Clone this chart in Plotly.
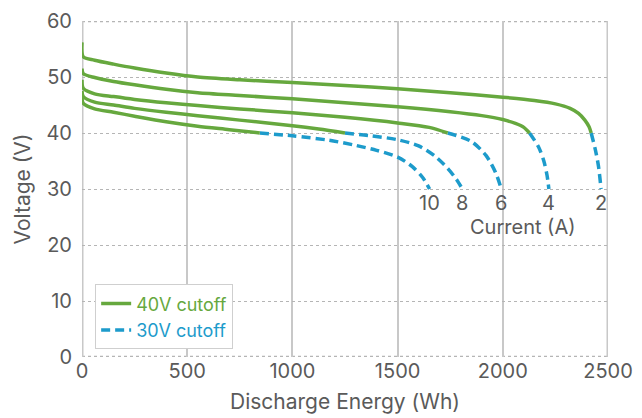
import plotly.graph_objects as go

# Discharge curves of the battery pack at five constant currents.
# Solid part: discharge down to the 40 V cutoff; dashed part: continued to 30 V.
currents = [2, 4, 6, 8, 10]

energy_2a_40 = [0, 6, 60, 150, 250, 400, 550, 750, 1000, 1250, 1500, 1750, 2000, 2150, 2250, 2320, 2360, 2390, 2410, 2420]
volt_2a_40 = [56.2, 53.6, 53.0, 52.3, 51.6, 50.7, 50.0, 49.5, 49.0, 48.5, 47.9, 47.2, 46.4, 45.8, 45.2, 44.4, 43.5, 42.3, 41.1, 40.0]
energy_2a_30 = [2420, 2440, 2455, 2467]
volt_2a_30 = [40.0, 37.0, 34.0, 30.0]

energy_4a_40 = [0, 6, 60, 150, 250, 400, 550, 750, 1000, 1250, 1500, 1750, 1900, 2000, 2060, 2100, 2127]
volt_4a_40 = [51.5, 50.6, 49.9, 49.2, 48.6, 47.8, 47.2, 46.7, 46.1, 45.4, 44.7, 43.8, 43.1, 42.4, 41.7, 41.0, 40.0]
energy_4a_30 = [2127, 2170, 2195, 2210, 2219]
volt_4a_30 = [40.0, 37.5, 35.0, 32.5, 30.0]

energy_6a_40 = [0, 6, 60, 150, 250, 400, 550, 750, 1000, 1250, 1500, 1650, 1738]
volt_6a_40 = [49.5, 48.0, 47.0, 46.5, 46.0, 45.4, 44.9, 44.3, 43.6, 42.8, 41.8, 41.0, 40.0]
energy_6a_30 = [1738, 1850, 1920, 1965, 1993]
volt_6a_30 = [40.0, 38.5, 36.0, 33.0, 30.0]

energy_8a_40 = [0, 6, 60, 150, 250, 400, 550, 750, 1000, 1125, 1250]
volt_8a_40 = [47.5, 46.5, 45.5, 45.0, 44.4, 43.7, 43.1, 42.3, 41.3, 40.7, 40.0]
energy_8a_30 = [1250, 1375, 1500, 1600, 1680, 1740, 1780, 1808]
volt_8a_30 = [40.0, 39.5, 38.8, 37.7, 35.8, 33.6, 31.7, 30.0]

energy_10a_40 = [0, 6, 60, 150, 250, 400, 550, 700, 845]
volt_10a_40 = [46.5, 45.3, 44.3, 43.7, 43.0, 42.0, 41.2, 40.6, 40.0]
energy_10a_30 = [845, 1000, 1175, 1300, 1400, 1500, 1570, 1620, 1652]
volt_10a_30 = [40.0, 39.5, 38.7, 37.8, 36.9, 35.7, 34.0, 32.0, 30.0]

x_ticks = [0, 500, 1000, 1500, 2000, 2500]
y_ticks = [0, 10, 20, 30, 40, 50, 60]
x_range = [0, 2500]
y_range = [0, 60]

GREEN = "#66a83e"
BLUE = "#1d9bcb"
TEXT = "#5a5a5a"
VGRID = "#c8c8c8"
HGRID = "#b5b5b5"
FONT = "Inter"

curves = [
    (2, energy_2a_40, volt_2a_40, energy_2a_30, volt_2a_30),
    (4, energy_4a_40, volt_4a_40, energy_4a_30, volt_4a_30),
    (6, energy_6a_40, volt_6a_40, energy_6a_30, volt_6a_30),
    (8, energy_8a_40, volt_8a_40, energy_8a_30, volt_8a_30),
    (10, energy_10a_40, volt_10a_40, energy_10a_30, volt_10a_30),
]

fig = go.Figure()

for i, (amps, e40, v40, e30, v30) in enumerate(curves):
    fig.add_trace(go.Scatter(
        x=e30, y=v30, mode="lines",
        line=dict(color=BLUE, width=3.5, dash="9px,5px", shape="spline", smoothing=0.8),
        name=f"<span style='color:{BLUE}'>30V cutoff</span>",
        legendgroup="30", legendrank=2, showlegend=(i == 0),
    ))
    fig.add_trace(go.Scatter(
        x=e40, y=v40, mode="lines",
        line=dict(color=GREEN, width=3.5, shape="spline", smoothing=0.8),
        name=f"<span style='color:{GREEN}'>40V cutoff</span>",
        legendgroup="40", legendrank=1, showlegend=(i == 0),
    ))
    # current label under the end of each dashed curve
    fig.add_annotation(
        x=e30[-1], y=v30[-1], text=str(amps), showarrow=False,
        xanchor="center", yanchor="top", yshift=0,
        font=dict(family=FONT, size=20, color=TEXT),
    )

fig.add_annotation(
    x=2094, y=23.2, text="Current (A)", showarrow=False,
    xanchor="center", yanchor="middle",
    font=dict(family=FONT, size=20, color=TEXT),
)

# frame: dotted top/bottom edges like the horizontal grid, solid sides like the vertical grid
# (drawn wider because the plot area clips half of each edge line)
for yv in y_range:
    fig.add_shape(type="line", xref="paper", x0=0, x1=1, yref="y", y0=yv, y1=yv,
                  line=dict(color=HGRID, width=2.4, dash="dot"), layer="below")
for xv in x_range:
    fig.add_shape(type="line", xref="x", x0=xv, x1=xv, yref="paper", y0=0, y1=1,
                  line=dict(color=VGRID, width=3), layer="below")

fig.update_layout(
    width=642, height=418,
    margin=dict(l=82, r=34, t=21, b=61),
    paper_bgcolor="white", plot_bgcolor="white",
    font=dict(family=FONT, color=TEXT),
    legend=dict(
        x=0.025, y=0.216, xanchor="left", yanchor="top",
        bgcolor="white", bordercolor="#cfcfcf", borderwidth=1,
        font=dict(family=FONT, size=18),
        tracegroupgap=0, traceorder="normal",
    ),
    xaxis=dict(
        range=x_range, tickvals=x_ticks, automargin=False,
        showgrid=True, gridcolor=VGRID, gridwidth=1.5,
        zeroline=False, showline=False, ticks="",
        tickfont=dict(family=FONT, size=20, color=TEXT),
        title=dict(text="Discharge Energy (Wh)", font=dict(family=FONT, size=21, color=TEXT), standoff=12),
    ),
    yaxis=dict(
        range=y_range, tickvals=y_ticks, automargin=False,
        showgrid=True, gridcolor=HGRID, gridwidth=1.2, griddash="dot",
        zeroline=False, showline=False, ticks="",
        ticklabelstandoff=9,
        tickfont=dict(family=FONT, size=20, color=TEXT),
        title=dict(text="Voltage (V)", font=dict(family=FONT, size=21, color=TEXT), standoff=10),
    ),
)

fig.write_html("out.html")
